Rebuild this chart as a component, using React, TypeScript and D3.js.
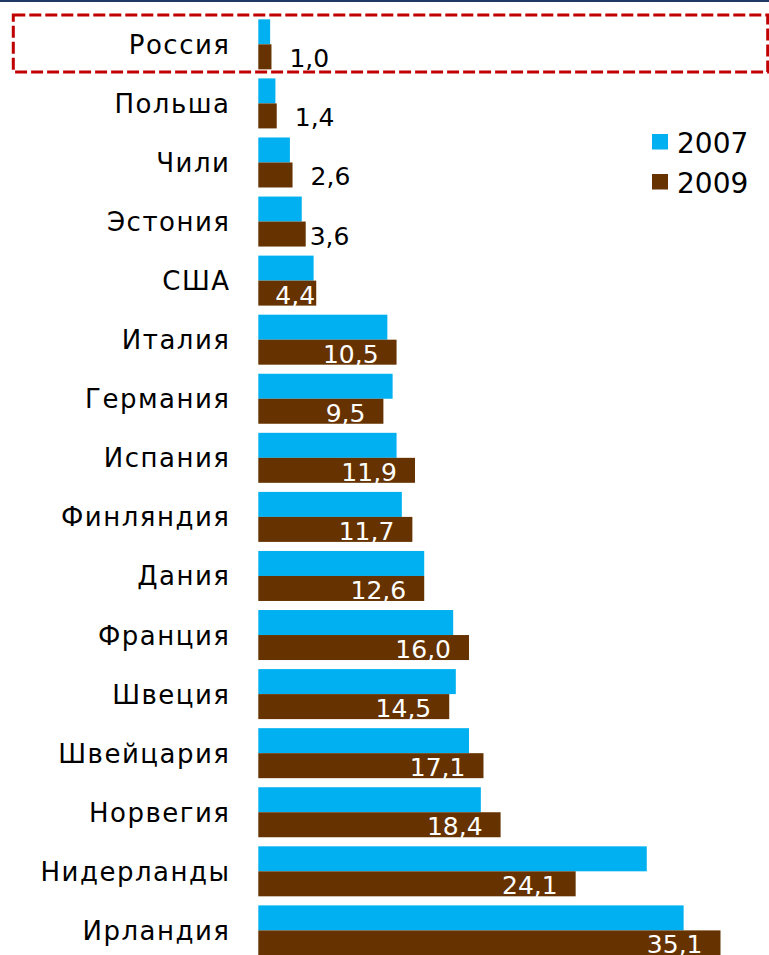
import React from "react";
import * as d3 from "d3";

const categories = [
  "Россия", "Польша", "Чили", "Эстония", "США", "Италия", "Германия", "Испания",
  "Финляндия", "Дания", "Франция", "Швеция", "Швейцария", "Норвегия", "Нидерланды", "Ирландия",
];
const values2007 = [0.9, 1.3, 2.4, 3.3, 4.2, 9.8, 10.2, 10.5, 10.9, 12.6, 14.8, 15.0, 16.0, 16.9, 29.5, 32.3];
const values2009 = [1.0, 1.4, 2.6, 3.6, 4.4, 10.5, 9.5, 11.9, 11.7, 12.6, 16.0, 14.5, 17.1, 18.4, 24.1, 35.1];
const seriesNames = ["2007", "2009"];
const colors = ["#00B0F0", "#663300"];

const W = 769;
const H = 955;
const FONT = "'DejaVu Sans', Verdana, sans-serif";

export default function App() {
  const x = d3.scaleLinear().domain([0, 35.1]).range([258.3, 720.5]);
  const y = d3.scaleBand<string>().domain(categories).range([14.8, 14.8 + 59.07 * 16]).paddingInner(0).paddingOuter(0);
  const barH = 25;
  const fmt = (v: number) => v.toFixed(1).replace(".", ",");
  const valueFont = 25;
  const textW = (s: string) => s.split("").reduce((a, c) => a + (c === "," ? 0.318 : 0.636), 0) * valueFont;

  return (
    <svg width={W} height={H} style={{ position: "absolute", left: 0, top: 0, background: "#fff" }} fontFamily={FONT}>
      <rect x={0} y={0} width={W} height={2} fill="#1F3864" />
      {categories.map((c, i) => {
        const band = y(c)!;
        const top = band + (y.bandwidth() - 2 * barH) / 2;
        const mid = top + barH;
        const x0 = x(0);
        const w7 = x(values2007[i]) - x0;
        const w9 = x(values2009[i]) - x0;
        const barEnd = x0 + w9;
        const label = fmt(values2009[i]);
        const lw = textW(label);
        const inside = w9 >= 55;
        let lx: number;
        if (inside) {
          lx = Math.max(barEnd - 18 - lw, x0 + 17);
        } else {
          lx = barEnd + (w9 > 40 ? 4 : 18);
        }
        return (
          <g key={c}>
            <text x={230.5} y={mid + 9.5} fontSize={26} letterSpacing={1.5} textAnchor="end" fill="#000">{c}</text>
            <rect x={x0} y={top} width={w7} height={barH} fill={colors[0]} />
            <rect x={x0} y={mid} width={w9} height={barH} fill={colors[1]} />
            <text x={lx} y={mid + 23} fontSize={valueFont} textAnchor="start" fill={inside ? "#fff" : "#000"}>{label}</text>
          </g>
        );
      })}
      <rect x={13.3} y={15} width={767.7 - 13.3} height={72 - 15} fill="none" stroke="#C00000" strokeWidth={3} strokeDasharray="12,4" />
      {seriesNames.map((s, i) => (
        <g key={s}>
          <rect x={652} y={134 + i * 40} width={16} height={15.5} fill={colors[i]} />
          <text x={677} y={153 + i * 39.5} fontSize={28} fill="#000">{s}</text>
        </g>
      ))}
    </svg>
  );
}
